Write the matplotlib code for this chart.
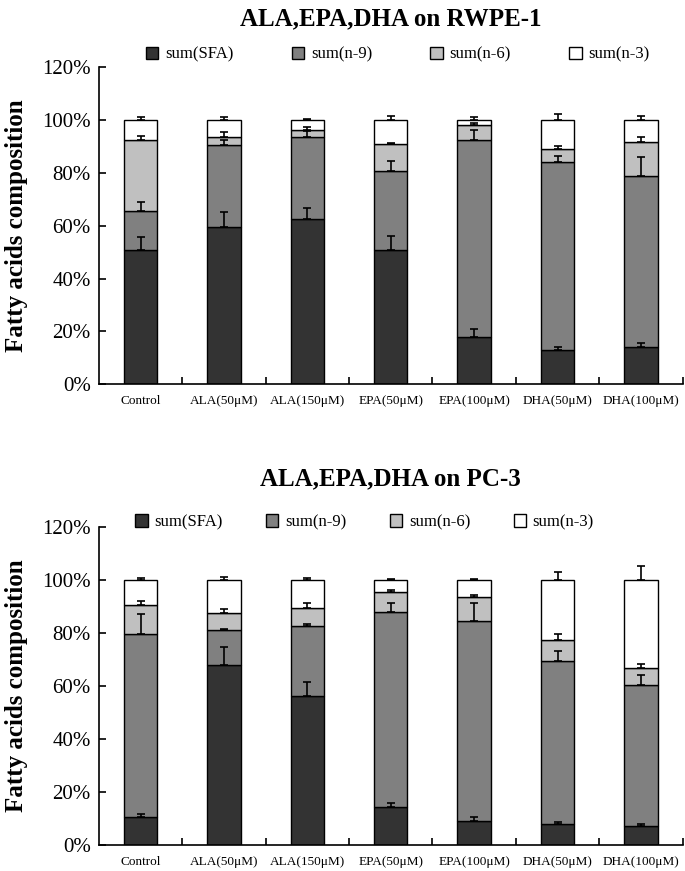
#!/usr/bin/env python
# -*- coding: utf-8 -*-
"""Fatty acid composition, stacked bars for RWPE-1 and PC-3."""

import numpy as np
import matplotlib as mpl; mpl.use('agg')
import matplotlib.pyplot as plt

# --- data (percent)
categories = ['Control', 'ALA(50μM)', 'ALA(150μM)', 'EPA(50μM)',
              'EPA(100μM)', 'DHA(50μM)', 'DHA(100μM)']
series = ['sum(SFA)', 'sum(n-9)', 'sum(n-6)', 'sum(n-3)']

# RWPE-1: segment heights
rwpe_sfa = [50.8, 59.4, 62.5, 50.8, 17.9, 13.0, 14.1]
rwpe_n9  = [14.8, 31.2, 31.0, 29.9, 74.5, 71.0, 64.6]
rwpe_n6  = [26.8,  3.0,  2.7, 10.2,  5.7,  5.1, 12.9]
rwpe_n3  = [ 7.6,  6.4,  3.8,  9.1,  1.9, 10.9,  8.4]
rwpe_err = [  # upper errors per series
    [5.1, 5.8, 4.2, 5.5, 2.9, 1.1, 1.7],
    [3.4, 1.8, 2.3, 3.8, 3.8, 2.4, 7.5],
    [1.7, 1.8, 1.1, 0.4, 0.8, 1.3, 2.1],
    [1.3, 1.3, 0.4, 1.6, 1.1, 2.5, 1.6],
]

# PC-3
pc3_sfa = [10.7, 68.1, 56.3, 14.4,  9.2,  7.9,  7.2]
pc3_n9  = [68.8, 13.1, 26.2, 73.7, 75.3, 61.5, 53.2]
pc3_n6  = [11.1,  6.5,  6.8,  7.3,  9.0,  8.0,  6.4]
pc3_n3  = [ 9.4, 12.3, 10.7,  4.6,  6.5, 22.6, 33.2]
pc3_err = [
    [1.1, 6.8, 5.4, 1.7, 1.3, 0.9, 0.7],
    [7.8, 0.3, 0.9, 3.1, 6.9, 4.0, 3.9],
    [1.4, 1.5, 2.1, 0.7, 1.0, 2.1, 1.6],
    [0.9, 1.3, 0.9, 0.3, 0.3, 2.9, 5.4],
]

colors = ['#333333', '#808080', '#c0c0c0', '#ffffff']

plt.rcParams['font.family'] = ['Liberation Serif', 'DejaVu Serif']


def draw_panel(ax, vals, errs, title, leg_xy, leg_colsp):
    x = np.arange(len(categories))
    bottom = np.zeros(len(categories))
    for name, v, e, c in zip(series, vals, errs, colors):
        v = np.asarray(v)
        ax.bar(x, v, 0.4, bottom=bottom, color=c, edgecolor='black',
               linewidth=1.0, label=name, zorder=2)
        top = bottom + v
        ax.errorbar(x, top, yerr=[np.zeros_like(top), e], fmt='none',
                    ecolor='black', elinewidth=1.2, capsize=3,
                    capthick=1.2, zorder=3)
        bottom = top

    ax.set_xlim(-0.5, len(categories) - 0.5)
    ax.set_ylim(0, 120)
    ax.set_yticks(np.arange(0, 121, 20))
    ax.set_yticklabels([f'{v}%' for v in range(0, 121, 20)], fontsize=15)
    ax.set_xticks(x)
    ax.set_xticklabels(categories, fontsize=9.5)
    ax.set_xticks(np.arange(0.5, len(categories), 1), minor=True)
    ax.tick_params(axis='x', which='major', length=0, pad=8)
    ax.tick_params(axis='x', which='minor', direction='in', length=5,
                   width=1.2)
    ax.tick_params(axis='y', direction='in', length=5, width=1.2, pad=6)
    for s in ['top', 'right']:
        ax.spines[s].set_visible(False)
    for s in ['left', 'bottom']:
        ax.spines[s].set_linewidth(1.2)
    ax.set_ylabel('Fatty acids composition', fontsize=18, fontweight='bold',
                  labelpad=10)
    ax.set_title(title, fontsize=18, fontweight='bold', pad=30)
    ax.legend(loc='center', bbox_to_anchor=leg_xy, ncol=4,
              frameon=False, fontsize=12, handlelength=0.75,
              handleheight=0.75, handletextpad=0.4, columnspacing=leg_colsp,
              borderaxespad=0, borderpad=0)


fig = plt.figure(figsize=(6.85, 8.71), dpi=100)
ax1 = fig.add_axes([0.1445, 0.5588, 0.852, 0.3638])
ax2 = fig.add_axes([0.1445, 0.0295, 0.852, 0.3654])

draw_panel(ax1, [rwpe_sfa, rwpe_n9, rwpe_n6, rwpe_n3], rwpe_err,
           'ALA,EPA,DHA on RWPE-1', (0.512, 1.041), 3.5)
draw_panel(ax2, [pc3_sfa, pc3_n9, pc3_n6, pc3_n3], pc3_err,
           'ALA,EPA,DHA on PC-3', (0.455, 1.015), 2.6)

fig.savefig('out.png', dpi=100)
